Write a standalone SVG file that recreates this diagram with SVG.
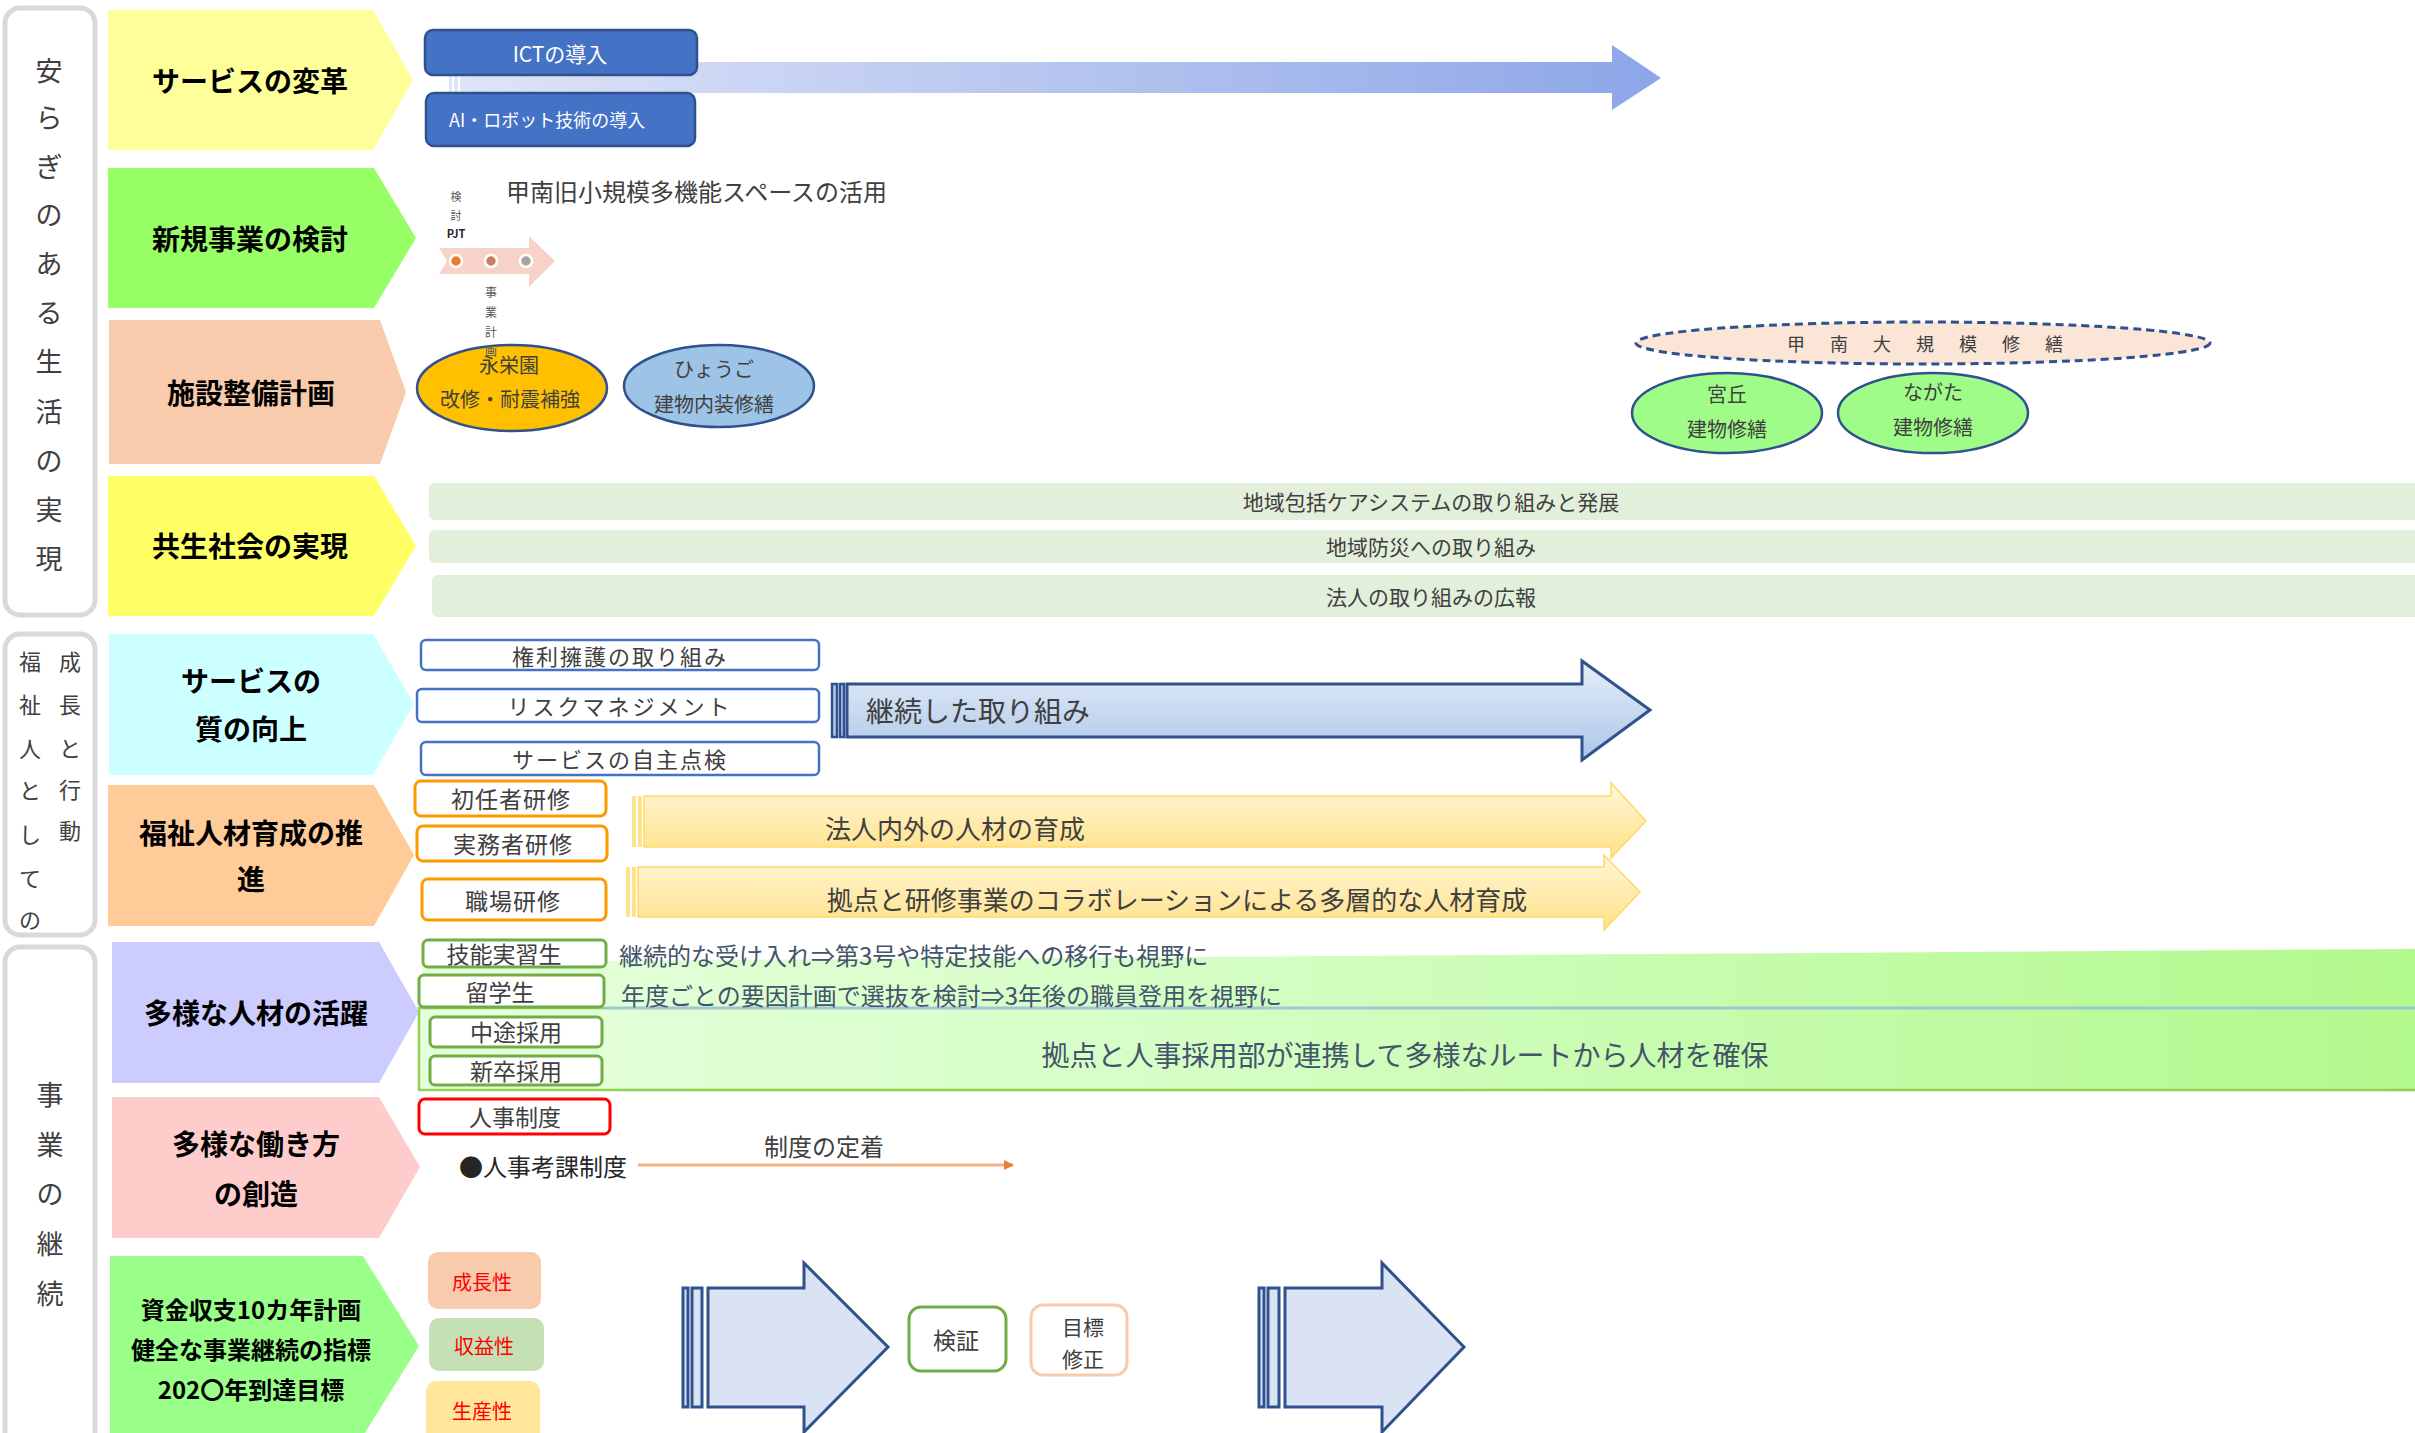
<svg xmlns="http://www.w3.org/2000/svg" width="2415" height="1433" viewBox="0 0 2415 1433">
<style>
text{font-family:"Noto Sans CJK JP","Noto Sans",sans-serif;dominant-baseline:central}
.side{fill:#fff;stroke:#D9D9D9;stroke-width:5}
.sidet{font-size:27px;fill:#404040;text-anchor:middle}
.sidet2{font-size:22px;fill:#404040;text-anchor:middle}
.chev{font-size:28px;font-weight:bold;fill:#000;text-anchor:middle}
.chev9{font-size:24px;font-weight:bold;fill:#000;text-anchor:middle}
.lbl{fill:#404040;text-anchor:middle}
.bluebox{fill:#fff;stroke:#4472C4;stroke-width:2.5}
.orbox{fill:#fff;stroke:#FF9900;stroke-width:3}
.grbox{fill:#fff;stroke:#70AD47;stroke-width:3}
.bar{fill:#E2EFDA}
.ell{stroke:#2F528F;stroke-width:2.5}
.bigarrow{fill:#DAE3F3;stroke:#2F528F;stroke-width:3}
.yarrow{fill:url(#gy);stroke:#FFD966;stroke-width:1.5}
.rtxt{font-size:24px;fill:#44546A}
</style>
<defs>
<linearGradient id="g1" x1="0" y1="0" x2="1" y2="0">
<stop offset="0" stop-color="#DFE4F7"/><stop offset="1" stop-color="#8DA6E8"/>
</linearGradient>
<linearGradient id="gb" x1="0" y1="0" x2="0" y2="1">
<stop offset="0" stop-color="#E4EEF9"/><stop offset="1" stop-color="#ADC6E8"/>
</linearGradient>
<linearGradient id="gy" x1="0" y1="0" x2="0" y2="1">
<stop offset="0" stop-color="#FFF6D8"/><stop offset="1" stop-color="#FFE187"/>
</linearGradient>
<linearGradient id="gg" x1="0" y1="0" x2="1" y2="0">
<stop offset="0" stop-color="#E6FFDC"/><stop offset="0.4" stop-color="#D4FEC4"/><stop offset="1" stop-color="#B2F98C"/>
</linearGradient>
<marker id="oarr" markerWidth="10" markerHeight="10" refX="9" refY="5" orient="auto" markerUnits="userSpaceOnUse">
<path d="M0,0 L10,5 L0,10 z" fill="#ED7D31"/>
</marker>
</defs>
<rect width="2415" height="1433" fill="#fff"/>

<!-- left category boxes -->
<g id="cat1">
<rect class="side" x="5" y="8" width="90" height="607" rx="15"/>
<text class="sidet"><tspan x="49" y="69">安</tspan><tspan x="49" y="116">ら</tspan><tspan x="49" y="165">ぎ</tspan><tspan x="49" y="213">の</tspan><tspan x="49" y="262">あ</tspan><tspan x="49" y="311">る</tspan><tspan x="49" y="360">生</tspan><tspan x="49" y="410">活</tspan><tspan x="49" y="459">の</tspan><tspan x="49" y="508">実</tspan><tspan x="49" y="557">現</tspan></text>
</g>
<g id="cat2">
<rect class="side" x="5" y="634" width="90" height="301" rx="15"/>
<text class="sidet2"><tspan x="70" y="660">成</tspan><tspan x="70" y="703">長</tspan><tspan x="70" y="747">と</tspan><tspan x="70" y="788">行</tspan><tspan x="70" y="829">動</tspan></text>
<text class="sidet2"><tspan x="30" y="660">福</tspan><tspan x="30" y="703">祉</tspan><tspan x="30" y="747">人</tspan><tspan x="30" y="789">と</tspan><tspan x="30" y="833">し</tspan><tspan x="30" y="877">て</tspan><tspan x="30" y="918">の</tspan></text>
</g>
<g id="cat3">
<rect class="side" x="5" y="947" width="90" height="520" rx="15"/>
<text class="sidet"><tspan x="50" y="1093">事</tspan><tspan x="50" y="1143">業</tspan><tspan x="50" y="1192">の</tspan><tspan x="50" y="1242">継</tspan><tspan x="50" y="1292">続</tspan></text>
</g>

<!-- chevrons -->
<g id="row1-head"><polygon points="108,10 373,10 413,80 373,150 108,150" fill="#FFFF99"/><text class="chev" x="250" y="80">サービスの変革</text></g>
<g id="row2-head"><polygon points="108,168 374,168 416,238 374,308 108,308" fill="#99FF66"/><text class="chev" x="250" y="238">新規事業の検討</text></g>
<g id="row3-head"><polygon points="109,320 380,320 406,392 380,464 109,464" fill="#F8CBAD"/><text class="chev" x="251" y="392">施設整備計画</text></g>
<g id="row4-head"><polygon points="108,476 374,476 416,546 374,616 108,616" fill="#FFFF66"/><text class="chev" x="250" y="545">共生社会の実現</text></g>
<g id="row5-head"><polygon points="109,634 373,634 414,704 373,775 109,775" fill="#CCFFFF"/><text class="chev" x="251" y="680">サービスの</text><text class="chev" x="251" y="728">質の向上</text></g>
<g id="row6-head"><polygon points="108,785 374,785 414,855 374,926 108,926" fill="#FFCC99"/><text class="chev" x="251" y="832">福祉人材育成の推</text><text class="chev" x="251" y="878">進</text></g>
<g id="row7-head"><polygon points="112,942 379,942 419,1012 379,1083 112,1083" fill="#CCCCFF"/><text class="chev" x="256" y="1012">多様な人材の活躍</text></g>
<g id="row8-head"><polygon points="112,1097 379,1097 420,1167 379,1238 112,1238" fill="#FFCCCC"/><text class="chev" x="256" y="1143">多様な働き方</text><text class="chev" x="256" y="1193">の創造</text></g>
<g id="row9-head"><polygon points="110,1256 363,1256 419,1346 363,1436 110,1436" fill="#99FF88"/><text class="chev9" x="251" y="1308">資金収支10カ年計画</text><text class="chev9" x="251" y="1348">健全な事業継続の指標</text><text class="chev9" x="251" y="1388">202〇年到達目標</text></g>

<!-- row 1 -->
<g id="ict-arrow">
<rect x="449" y="62" width="3" height="31" fill="#DFE4F7"/><rect x="454" y="62" width="4" height="31" fill="#DFE4F7"/>
<polygon points="460,62 1612,62 1612,45 1661,78 1612,110 1612,93 460,93" fill="url(#g1)"/>
</g>
<g id="ict"><rect x="425" y="30" width="272" height="45" rx="8" fill="#4472C4" stroke="#2F528F" stroke-width="2.5"/><text x="560" y="53" font-size="21" fill="#fff" text-anchor="middle">ICTの導入</text></g>
<g id="ai"><rect x="426" y="93" width="269" height="53" rx="8" fill="#4472C4" stroke="#2F528F" stroke-width="2.5"/><text x="449" y="119" font-size="18" fill="#fff">AI・ロボット技術の導入</text></g>

<!-- row 2 -->
<g id="timeline">
<polygon points="439,248 529,248 529,236 555,261 529,287 529,274 439,274 447,261" fill="#F6D2C8"/>
<circle cx="456" cy="261" r="6" fill="#ED7D31" stroke="#fff" stroke-width="2.5"/>
<circle cx="491" cy="261" r="6" fill="#C5806B" stroke="#fff" stroke-width="2.5"/>
<circle cx="526" cy="261" r="6" fill="#A5A5A5" stroke="#fff" stroke-width="2.5"/>
<text font-size="11" fill="#595959" text-anchor="middle"><tspan x="456" y="196">検</tspan><tspan x="456" y="215">討</tspan><tspan x="456" y="233" font-weight="bold" fill="#262626">PJT</tspan></text>
</g>
<g id="kounan-text"><text x="506" y="190" font-size="24" fill="#404040">甲南旧小規模多機能スペースの活用</text></g>

<!-- row 3 -->
<g id="eiei"><ellipse class="ell" cx="512" cy="388" rx="95" ry="43" fill="#FFC000"/><text class="lbl" x="509" y="364" font-size="20">永栄園</text><text class="lbl" x="510" y="398" font-size="20">改修・耐震補強</text></g>
<g id="hyogo"><ellipse class="ell" cx="719" cy="386" rx="95" ry="41" fill="#9DC3E6"/><text class="lbl" x="714" y="368" font-size="20">ひょうご</text><text class="lbl" x="714" y="403" font-size="20">建物内装修繕</text></g>
<g id="jigyo-keikaku"><text font-size="12" fill="#595959" text-anchor="middle"><tspan x="491" y="291">事</tspan><tspan x="491" y="311">業</tspan><tspan x="491" y="331">計</tspan><tspan x="491" y="350">画</tspan></text></g>
<g id="kounan-dai"><ellipse cx="1923" cy="343" rx="287" ry="21" fill="#FBE5D6" stroke="#2F528F" stroke-width="3" stroke-dasharray="8 5"/><text x="1787" y="343" font-size="18" fill="#404040" letter-spacing="25">甲南大規模修繕</text></g>
<g id="miyaoka"><ellipse class="ell" cx="1727" cy="413" rx="95" ry="40" fill="#A0FC88"/><text class="lbl" x="1727" y="393" font-size="20">宮丘</text><text class="lbl" x="1727" y="428" font-size="20">建物修繕</text></g>
<g id="nagata"><ellipse class="ell" cx="1933" cy="413" rx="95" ry="40" fill="#A0FC88"/><text class="lbl" x="1933" y="391" font-size="20">ながた</text><text class="lbl" x="1933" y="426" font-size="20">建物修繕</text></g>

<!-- row 4 -->
<g id="bar1"><rect class="bar" x="429" y="483" width="2010" height="37" rx="6"/><text class="lbl" x="1431" y="501" font-size="21">地域包括ケアシステムの取り組みと発展</text></g>
<g id="bar2"><rect class="bar" x="429" y="530" width="2010" height="33" rx="6"/><text class="lbl" x="1431" y="546" font-size="21">地域防災への取り組み</text></g>
<g id="bar3"><rect class="bar" x="432" y="575" width="2010" height="42" rx="6"/><text class="lbl" x="1431" y="596" font-size="21">法人の取り組みの広報</text></g>

<!-- row 5 -->
<g id="kenri"><rect class="bluebox" x="421" y="640" width="398" height="30" rx="5"/><text class="lbl" x="620" y="655" font-size="22" letter-spacing="2">権利擁護の取り組み</text></g>
<g id="risk"><rect class="bluebox" x="417" y="689" width="402" height="33" rx="5"/><text class="lbl" x="620" y="705" font-size="22" letter-spacing="3">リスクマネジメント</text></g>
<g id="jishu"><rect class="bluebox" x="421" y="742" width="398" height="33" rx="5"/><text class="lbl" x="620" y="758" font-size="22" letter-spacing="2">サービスの自主点検</text></g>
<g id="keizoku">
<rect x="832" y="684" width="5" height="53" fill="#B4C7E7" stroke="#2F528F" stroke-width="2.5"/>
<rect x="840" y="684" width="4" height="53" fill="#B4C7E7" stroke="#2F528F" stroke-width="2.5"/>
<polygon points="847,684 1582,684 1582,661 1650,710 1582,760 1582,737 847,737" fill="url(#gb)" stroke="#2F528F" stroke-width="3"/>
<text x="866" y="710" font-size="28" fill="#404040">継続した取り組み</text>
</g>

<!-- row 6 -->
<g id="shonin"><rect class="orbox" x="415" y="781" width="191" height="35" rx="6"/><text class="lbl" x="511" y="798" font-size="23" letter-spacing="1">初任者研修</text></g>
<g id="jitsumu"><rect class="orbox" x="417" y="826" width="190" height="35" rx="6"/><text class="lbl" x="513" y="843" font-size="23" letter-spacing="1">実務者研修</text></g>
<g id="shokuba"><rect class="orbox" x="422" y="879" width="184" height="41" rx="6"/><text class="lbl" x="513" y="900" font-size="23" letter-spacing="1">職場研修</text></g>
<g id="yarrow1">
<rect x="632" y="796" width="4" height="51" fill="#FFE38C"/><rect x="638" y="796" width="4" height="51" fill="#FFE38C"/>
<polygon class="yarrow" points="644,796 1611,796 1611,783 1646,821 1611,858 1611,847 644,847"/>
<text class="lbl" x="955" y="827" font-size="26">法人内外の人材の育成</text>
</g>
<g id="yarrow2">
<rect x="626" y="867" width="4" height="50" fill="#FFE38C"/><rect x="632" y="867" width="4" height="50" fill="#FFE38C"/>
<polygon class="yarrow" points="638,867 1604,867 1604,855 1640,892 1604,930 1604,917 638,917"/>
<text class="lbl" x="1177" y="898" font-size="26">拠点と研修事業のコラボレーションによる多層的な人材育成</text>
</g>

<!-- row 7 -->
<g id="hr-band">
<polygon points="422,962 2415,949 2415,1008 422,1008" fill="url(#gg)"/>
<rect x="419" y="1008" width="2010" height="82" fill="url(#gg)" stroke="#92D050" stroke-width="2.5"/>
<line x1="603" y1="1008" x2="2415" y2="1008" stroke="#9DC3E6" stroke-width="2.5"/>
<text x="619" y="954" class="rtxt">継続的な受け入れ⇒第3号や特定技能への移行も視野に</text>
<text x="621" y="994" class="rtxt">年度ごとの要因計画で選抜を検討⇒3年後の職員登用を視野に</text>
<text x="1405" y="1054" font-size="28" fill="#44546A" text-anchor="middle">拠点と人事採用部が連携して多様なルートから人材を確保</text>
</g>
<g id="ginou"><rect class="grbox" x="423" y="940" width="183" height="27" rx="5"/><text class="lbl" x="504" y="953" font-size="23" fill="#262626">技能実習生</text></g>
<g id="ryugaku"><rect class="grbox" x="419" y="975" width="185" height="32" rx="5"/><text class="lbl" x="500" y="991" font-size="23" fill="#262626">留学生</text></g>
<g id="chuto"><rect class="grbox" x="430" y="1017" width="172" height="30" rx="5"/><text class="lbl" x="516" y="1031" font-size="23" fill="#262626">中途採用</text></g>
<g id="shinsotsu"><rect class="grbox" x="430" y="1056" width="172" height="29" rx="5"/><text class="lbl" x="516" y="1070" font-size="23" fill="#262626">新卒採用</text></g>

<!-- row 8 -->
<g id="jinji"><rect x="419" y="1099" width="191" height="35" rx="6" fill="#fff" stroke="#FF0000" stroke-width="3"/><text class="lbl" x="515" y="1116" font-size="23" fill="#262626">人事制度</text></g>
<g id="kouka"><text x="459" y="1165" font-size="24" fill="#262626">●人事考課制度</text></g>
<g id="teichaku"><text class="lbl" x="824" y="1145" font-size="24">制度の定着</text></g>

<!-- row 9 -->
<g id="seicho"><rect x="428" y="1252" width="113" height="57" rx="10" fill="#F8CBAD"/><text x="482" y="1281" font-size="20" fill="#FF0000" text-anchor="middle">成長性</text></g>
<g id="shueki"><rect x="429" y="1318" width="115" height="53" rx="10" fill="#C5E0B4"/><text x="484" y="1345" font-size="20" fill="#FF0000" text-anchor="middle">収益性</text></g>
<g id="seisan"><rect x="426" y="1381" width="114" height="70" rx="10" fill="#FFE699"/><text x="482" y="1410" font-size="20" fill="#FF0000" text-anchor="middle">生産性</text></g>
<g id="arrowA">
<rect class="bigarrow" x="683" y="1288" width="5" height="119"/>
<rect class="bigarrow" x="692" y="1288" width="10" height="119"/>
<polygon class="bigarrow" points="708,1288 804,1288 804,1263 888,1347 804,1432 804,1407 708,1407"/>
</g>
<g id="kensho"><rect x="909" y="1307" width="97" height="64" rx="12" fill="#fff" stroke="#70AD47" stroke-width="3"/><text class="lbl" x="956" y="1339" font-size="23">検証</text></g>
<g id="mokuhyo"><rect x="1031" y="1305" width="96" height="70" rx="12" fill="#fff" stroke="#F8CBAD" stroke-width="3"/><text class="lbl" x="1083" y="1326" font-size="21">目標</text><text class="lbl" x="1083" y="1358" font-size="21">修正</text></g>
<g id="arrowB">
<rect class="bigarrow" x="1259" y="1288" width="5" height="119"/>
<rect class="bigarrow" x="1268" y="1288" width="11" height="119"/>
<polygon class="bigarrow" points="1285,1288 1382,1288 1382,1263 1464,1347 1382,1432 1382,1407 1285,1407"/>
</g>

<!-- connectors -->
<g id="connectors">
<line x1="638" y1="1165" x2="1013" y2="1165" stroke="#F4B183" stroke-width="3" marker-end="url(#oarr)"/>
</g>
</svg>
